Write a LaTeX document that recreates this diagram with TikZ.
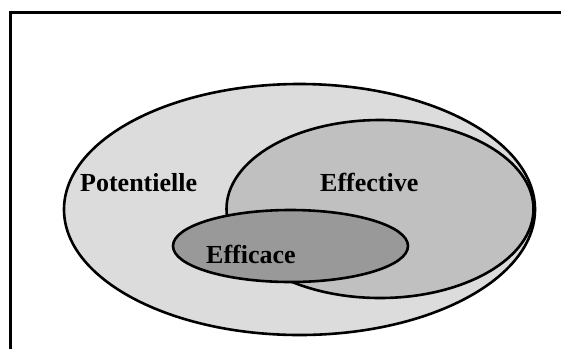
\documentclass[tikz,border=0pt]{standalone}
\usepackage{fontspec}
\setmainfont{Liberation Serif}[Ligatures=NoCommon]
\definecolor{potfill}{gray}{0.863}
\definecolor{efffill}{gray}{0.753}
\definecolor{ficfill}{gray}{0.6}
\begin{document}
\begin{tikzpicture}[x=1pt,y=-1pt,
  setline/.style={draw=black,line width=2.6pt},
  lbl/.style={anchor=base west,inner sep=0pt,font=\fontsize{26}{30}\selectfont\bfseries}]
\useasboundingbox (0,0) rectangle (561,349);
\draw[line width=3pt] (10.5,349) -- (10.5,12.5) -- (561,12.5);
\draw[setline,fill=potfill] (299.5,209.5) ellipse [x radius=235.5, y radius=125.5];
\draw[setline,fill=efffill] (380,209) ellipse [x radius=153.5, y radius=89];
\draw[setline,fill=ficfill] (290.5,246) ellipse [x radius=117.5, y radius=36];
\node[lbl] (pot) at (80,191) {Potentielle};
\node[lbl] (eff) at (320,191) {Effective};
\node[lbl] (fic) at (206,263) {Efficace};
\end{tikzpicture}
\end{document}
